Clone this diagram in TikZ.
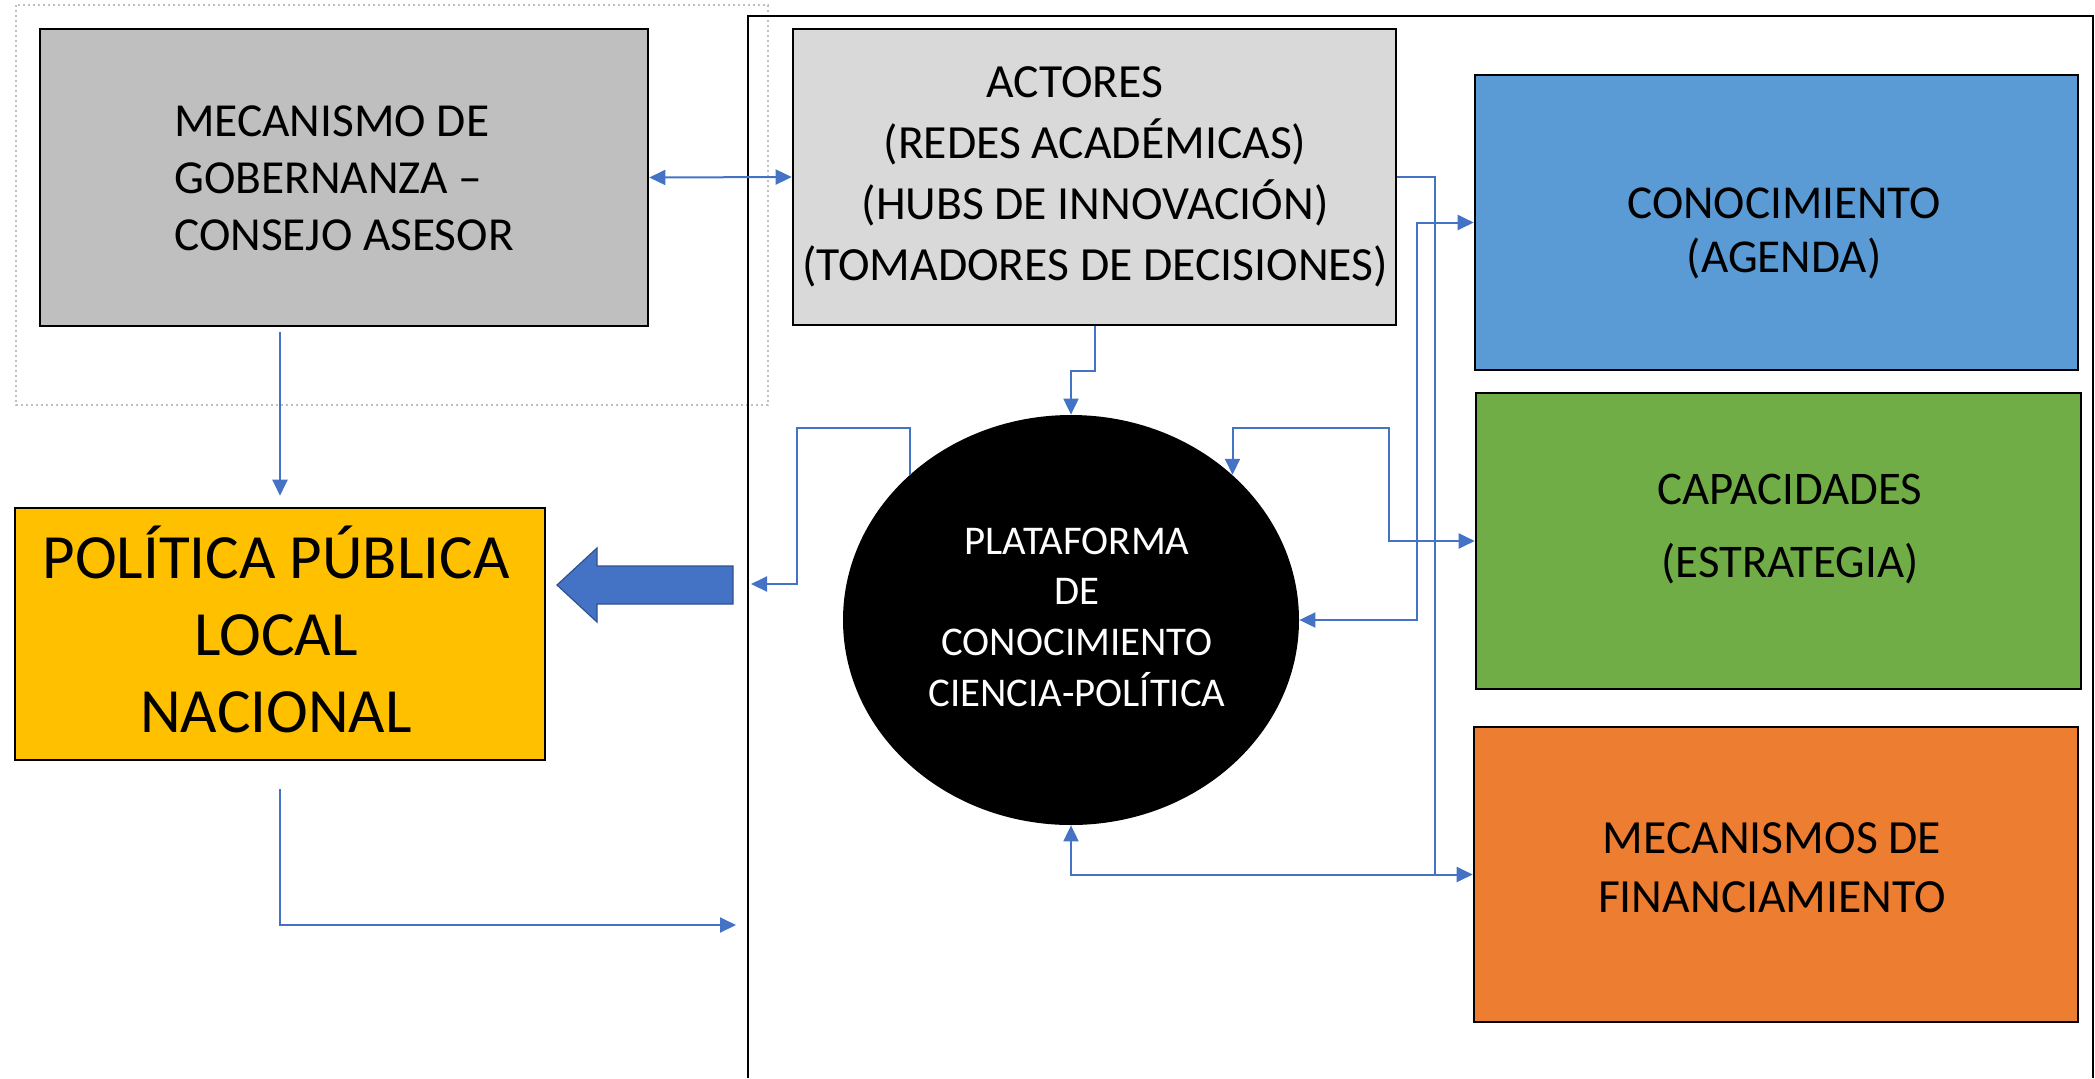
\documentclass[tikz,border=0pt]{standalone}
\usepackage{fontspec}
\setmainfont{Carlito}
\usetikzlibrary{arrows.meta,shapes.geometric,fit,calc}
\definecolor{mechgray}{HTML}{BFBFBF}
\definecolor{actgray}{HTML}{D9D9D9}
\definecolor{conoblue}{HTML}{5B9BD5}
\definecolor{capgreen}{HTML}{70AD47}
\definecolor{finorange}{HTML}{ED7D31}
\definecolor{polgold}{HTML}{FFC000}
\definecolor{connblue}{HTML}{4472C4}
\definecolor{arrowedge}{HTML}{2F528F}
\begin{document}
\begin{tikzpicture}[x=0.5pt,y=-0.5pt,
  box/.style={draw=black,line width=1.3pt,inner sep=0pt},
  txt/.style={inner sep=0pt,align=center,text=black},
  conn/.style={draw=connblue,line width=1pt},
  tip/.style={-{Triangle[length=8pt,width=7.5pt]}},
  tips/.style={{Triangle[length=8pt,width=7.5pt]}-{Triangle[length=8pt,width=7.5pt]}}]
\useasboundingbox (0,0) rectangle (2095,1078);
% frames
\draw[mechgray,line width=1.2pt,dash pattern=on 1.2pt off 1.3pt] (16,5) rectangle (768,405);
\draw[black,line width=1pt] (748,1078) -- (748,16) -- (2093,16) -- (2093,1078);
% boxes
\node[box,fill=mechgray,fit={(40,29)(648,326)}] (mech) {};
\node[box,fill=actgray,fit={(793,29)(1396,325)}] (act) {};
\node[box,fill=conoblue,fit={(1475,75)(2078,370)}] (cono) {};
\node[box,fill=capgreen,fit={(1476,393)(2081,689)}] (capa) {};
\node[box,fill=finorange,fit={(1474,727)(2078,1022)}] (fin) {};
\node[box,fill=polgold,fit={(15,508)(545,760)}] (pol) {};
\node[ellipse,fill=black,inner sep=0pt,minimum width=228pt,minimum height=205pt] (plat) at (1071,620) {};
% texts
\node[txt,align=left,font=\fontsize{23.7}{28.5}\selectfont] (mecht) at (344,178) {MECANISMO DE\\GOBERNANZA –\\CONSEJO ASESOR};
\node[txt,font=\fontsize{23.8}{30.5}\selectfont] (actt) at (1095,177) {ACTORES\hspace*{20pt}\\(REDES ACADÉMICAS)\\(HUBS DE INNOVACIÓN)\\(TOMADORES DE DECISIONES)};
\node[txt,font=\fontsize{23.6}{27}\selectfont] (conot) at (1784,233) {CONOCIMIENTO\\(AGENDA)};
\node[txt,font=\fontsize{23.4}{36.5}\selectfont] (capat) at (1790,529) {CAPACIDADES\\(ESTRATEGIA)};
\node[txt,font=\fontsize{23.8}{29.5}\selectfont] (fint) at (1772,868) {MECANISMOS DE\\FINANCIAMIENTO};
\node[txt,font=\fontsize{31.5}{38.5}\selectfont] (polt) at (276,629) {POLÍTICA PÚBLICA\\LOCAL\\NACIONAL};
\node[txt,text=white,font=\fontsize{20.4}{25.3}\selectfont] (platt) at (1077,617) {PLATAFORMA\\DE\\CONOCIMIENTO\\CIENCIA-POLÍTICA};
% big arrow
\draw[fill=connblue,draw=arrowedge,line width=0.6pt] (733,566) -- (597,566) -- (597,548) -- (557,585) -- (597,622) -- (597,604) -- (733,604) -- cycle;
% free ends
\coordinate (p2o) at (736,925);
\coordinate (pl) at (751,584);
\coordinate (jf) at (1435,875);
% connectors
\draw[conn,tips] (mech.east) -- (act.west);
\draw[conn,tip,shorten <=2.5pt,shorten >=5.5pt] (mech.south -| pol.north) -- (pol.north);
\draw[conn,tip] ($(pol.south)+(0,28)$) |- (p2o);
\draw[conn,tip] (act.south) -- ++(0,45) -| (plat.north);
\draw[conn] (act.east) -| (jf);
\draw[conn,tips] (plat.east) -- ++(118,0) |- (cono.west);
\draw[conn,tips] (plat.north east) -- ++(0,-47) -- ++(156,0) |- (capa.west);
\draw[conn,tip] (plat.north west) -- ++(0,-47) -- ++(-113,0) |- (pl);
\draw[conn,tips] (plat.south) |- (fin.west);
\end{tikzpicture}
\end{document}
